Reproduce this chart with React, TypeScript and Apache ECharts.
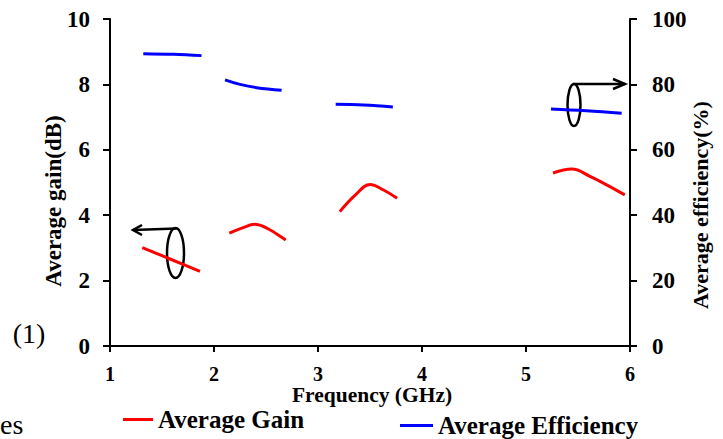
import React, { useEffect, useRef } from "react";
import * as echarts from "echarts";

// Frequency (GHz) band segments
const gainBand1 = [[1.31, 3.01], [1.6, 2.63], [1.865, 2.28]];
const gainBand2 = [[2.147, 3.45], [2.28, 3.62], [2.39, 3.72], [2.51, 3.6], [2.69, 3.24]];
const gainBand3 = [[3.21, 4.11], [3.36, 4.62], [3.5, 4.94], [3.63, 4.77], [3.76, 4.52]];
const gainBand4 = [[5.26, 5.29], [5.44, 5.41], [5.62, 5.18], [5.78, 4.92], [5.95, 4.62]];

const effBand1 = [[1.32, 89.4], [1.61, 89.2], [1.88, 88.8]];
const effBand2 = [[2.106, 81.4], [2.25, 80.0], [2.41, 79.0], [2.65, 78.2]];
const effBand3 = [[3.17, 73.9], [3.44, 73.7], [3.72, 73.1]];
const effBand4 = [[5.24, 72.5], [5.58, 71.96], [5.92, 71.2]];

const gainBands = [gainBand1, gainBand2, gainBand3, gainBand4];
const effBands = [effBand1, effBand2, effBand3, effBand4];

const GAIN_NAME = "Average Gain";
const EFF_NAME = "Average Efficiency";

const SERIF = "Liberation Serif, Times New Roman, serif";

export default function App() {
  const ref = useRef<HTMLDivElement>(null);

  useEffect(() => {
    if (!ref.current) return;
    const chart = echarts.init(ref.current, undefined, { renderer: "svg" });

    const series: any[] = [];
    gainBands.forEach((d) =>
      series.push({
        name: GAIN_NAME,
        type: "line",
        yAxisIndex: 0,
        data: d,
        smooth: 0.4,
        symbol: "none",
        lineStyle: { color: "#ff0000", width: 3 },
        itemStyle: { color: "#ff0000" },
      })
    );
    effBands.forEach((d) =>
      series.push({
        name: EFF_NAME,
        type: "line",
        yAxisIndex: 1,
        data: d,
        smooth: 0.4,
        symbol: "none",
        lineStyle: { color: "#0000ff", width: 3 },
        itemStyle: { color: "#0000ff" },
      })
    );

    const axisCommon = {
      axisLine: { show: true, lineStyle: { color: "#000", width: 2 } },
      axisTick: { show: true, inside: false, length: 7, lineStyle: { color: "#000", width: 2 } },
      splitLine: { show: false },
    };

    const legendText = { fontFamily: SERIF, fontWeight: "bold", fontSize: 25, color: "#000" };

    chart.setOption({
      animation: false,
      backgroundColor: "#fff",
      grid: { left: 110, right: 93, top: 19, bottom: 93, outerBoundsMode: "none" },
      xAxis: {
        type: "value",
        min: 1,
        max: 6,
        interval: 1,
        ...axisCommon,
        axisTick: { show: true, length: 6, lineStyle: { color: "#000", width: 2 } },
        axisLabel: { margin: 18, fontFamily: SERIF, fontWeight: "bold", fontSize: 20, color: "#000" },
      },
      yAxis: [
        {
          type: "value",
          position: "left",
          min: 0,
          max: 10,
          interval: 2,
          ...axisCommon,
          axisLabel: { margin: 20, fontFamily: SERIF, fontWeight: "bold", fontSize: 23, color: "#000" },
        },
        {
          type: "value",
          position: "right",
          min: 0,
          max: 100,
          interval: 20,
          ...axisCommon,
          axisLabel: { margin: 22, fontFamily: SERIF, fontWeight: "bold", fontSize: 23, color: "#000" },
        },
      ],
      legend: [
        {
          data: [GAIN_NAME],
          left: 123,
          top: 407,
          padding: 0,
          icon: "rect",
          itemWidth: 30,
          itemHeight: 3,
          selectedMode: false,
          textStyle: legendText,
        },
        {
          data: [EFF_NAME],
          left: 400,
          top: 413,
          padding: 0,
          icon: "rect",
          itemWidth: 33,
          itemHeight: 3,
          selectedMode: false,
          textStyle: legendText,
        },
      ],
      graphic: [
        {
          type: "text",
          x: 53,
          y: 201,
          rotation: Math.PI / 2,
          style: { text: "Average gain(dB)", fontFamily: SERIF, fontWeight: "bold", fontSize: 23, fill: "#000", align: "center", verticalAlign: "middle" },
        },
        {
          type: "text",
          x: 700,
          y: 205,
          rotation: Math.PI / 2,
          style: { text: "Average efficiency(%)", fontFamily: SERIF, fontWeight: "bold", fontSize: 22, fill: "#000", align: "center", verticalAlign: "middle" },
        },
        {
          type: "text",
          x: 372,
          y: 395,
          style: { text: "Frequency (GHz)", fontFamily: SERIF, fontWeight: "bold", fontSize: 21.5, fill: "#000", align: "center", verticalAlign: "middle" },
        },
        {
          type: "text",
          x: 29,
          y: 333,
          style: { text: "(1)", fontFamily: SERIF, fontSize: 28, fill: "#000", align: "center", verticalAlign: "middle" },
        },
        {
          type: "text",
          x: 0,
          y: 424,
          style: { text: "es", fontFamily: SERIF, fontSize: 28, fill: "#000", align: "left", verticalAlign: "middle" },
        },
        // left annotation: ellipse + arrow pointing to left axis
        {
          type: "ellipse",
          shape: { cx: 175.5, cy: 253, rx: 8.5, ry: 25 },
          style: { fill: "none", stroke: "#000", lineWidth: 2.5 },
        },
        {
          type: "line",
          shape: { x1: 176.5, y1: 228.5, x2: 133, y2: 230 },
          style: { stroke: "#000", lineWidth: 2.5 },
        },
        {
          type: "polyline",
          shape: { points: [[142, 225], [133, 230], [142, 235]] },
          style: { fill: "none", stroke: "#000", lineWidth: 2.5 },
        },
        // right annotation: ellipse + arrow pointing to right axis
        {
          type: "ellipse",
          shape: { cx: 574, cy: 105, rx: 6.5, ry: 21 },
          style: { fill: "none", stroke: "#000", lineWidth: 2.5 },
        },
        {
          type: "line",
          shape: { x1: 573, y1: 84, x2: 625, y2: 84 },
          style: { stroke: "#000", lineWidth: 2.5 },
        },
        {
          type: "polyline",
          shape: { points: [[613, 79], [625, 84], [613, 89]] },
          style: { fill: "none", stroke: "#000", lineWidth: 2.5 },
        },
      ],
      series,
    });

    return () => chart.dispose();
  }, []);

  return (
    <div
      ref={ref}
      style={{ position: "fixed", left: 0, top: 0, width: 723, height: 439, background: "#fff" }}
    />
  );
}
